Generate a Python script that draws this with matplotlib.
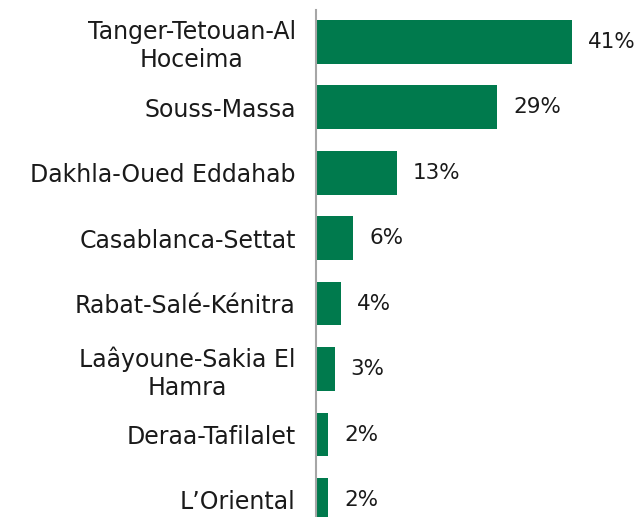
import matplotlib
matplotlib.use("Agg")
import matplotlib.pyplot as plt

regions = ["Tanger-Tetouan-Al\nHoceima", "Souss-Massa", "Dakhla-Oued Eddahab",
           "Casablanca-Settat", "Rabat-Salé-Kénitra", "Laâyoune-Sakia El\nHamra",
           "Deraa-Tafilalet", "L\u2019Oriental"]
shares = [41, 29, 13, 6, 4, 3, 2, 2]
share_labels = ["41%", "29%", "13%", "6%", "4%", "3%", "2%", "2%"]

GREEN = "#007a4d"
TEXT = "#1a1a1a"
plt.rcParams["font.family"] = ["DejaVu Sans"]

fig = plt.figure(figsize=(6.38, 5.17), dpi=100)
ax = fig.add_axes([316 / 638, 0, 322 / 638, 507 / 517])

y = list(range(len(regions)))
ax.barh(y, shares, height=0.667, color=GREEN)
ax.set_ylim(len(regions) - 1 + 0.26, -0.485)
ax.set_xlim(0, 322 / 6.24)

for yi, v, lab in zip(y, shares, share_labels):
    ax.annotate(lab, (v, yi), xytext=(11.5, 0), textcoords="offset points",
                ha="left", va="center", fontsize=15.5, color=TEXT)

ax.set_yticks(y)
ax.set_yticklabels(regions, fontsize=17, color=TEXT, linespacing=1.2,
                   ha="right", multialignment="center")
ax.tick_params(axis="y", length=0, pad=14.5)
ax.set_xticks([])
for s in ("top", "right", "bottom"):
    ax.spines[s].set_visible(False)
ax.spines["left"].set_color("#a6a6a6")
ax.spines["left"].set_linewidth(1.5)

fig.savefig("out.png", dpi=100)
